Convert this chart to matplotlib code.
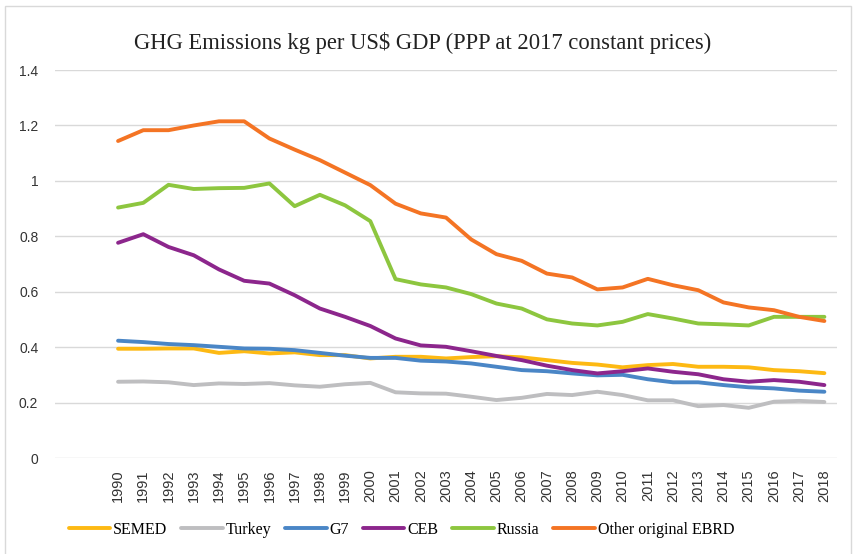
import matplotlib.pyplot as plt
from matplotlib.patches import Rectangle
import numpy as np

# Data
years = list(range(1990, 2019))

semed = [0.395, 0.395, 0.396, 0.396, 0.380, 0.386, 0.378, 0.382, 0.372, 0.372,
         0.360, 0.366, 0.366, 0.360, 0.365, 0.368, 0.364, 0.354, 0.344, 0.338,
         0.328, 0.336, 0.340, 0.330, 0.330, 0.328, 0.318, 0.314, 0.307]
turkey = [0.276, 0.277, 0.274, 0.264, 0.270, 0.268, 0.271, 0.263, 0.258, 0.267,
          0.272, 0.238, 0.234, 0.233, 0.222, 0.210, 0.218, 0.232, 0.228, 0.240,
          0.228, 0.209, 0.209, 0.188, 0.192, 0.182, 0.204, 0.207, 0.203]
g7 = [0.424, 0.419, 0.412, 0.408, 0.402, 0.396, 0.395, 0.390, 0.380, 0.370,
      0.362, 0.362, 0.352, 0.349, 0.342, 0.330, 0.318, 0.314, 0.306, 0.299,
      0.301, 0.285, 0.274, 0.274, 0.264, 0.256, 0.252, 0.244, 0.240]
ceb = [0.777, 0.808, 0.762, 0.732, 0.681, 0.640, 0.630, 0.588, 0.540, 0.510,
       0.477, 0.432, 0.407, 0.402, 0.386, 0.369, 0.354, 0.334, 0.318, 0.306,
       0.314, 0.324, 0.312, 0.303, 0.285, 0.276, 0.282, 0.276, 0.264]
russia = [0.904, 0.921, 0.986, 0.971, 0.974, 0.975, 0.991, 0.909, 0.950, 0.912,
          0.855, 0.646, 0.627, 0.616, 0.592, 0.558, 0.540, 0.501, 0.486, 0.479,
          0.492, 0.520, 0.504, 0.486, 0.483, 0.479, 0.510, 0.510, 0.510]
other_ebrd = [1.144, 1.183, 1.183, 1.200, 1.215, 1.215, 1.153, 1.113, 1.075, 1.030,
              0.985, 0.918, 0.883, 0.868, 0.789, 0.736, 0.712, 0.666, 0.652, 0.609,
              0.616, 0.647, 0.624, 0.606, 0.562, 0.544, 0.534, 0.510, 0.495]

series = [
    ("SEMED", semed, "#FDB913"),
    ("Turkey", turkey, "#BEBEC0"),
    ("G7", g7, "#4A86C6"),
    ("CEB", ceb, "#8C268C"),
    ("Russia", russia, "#8DC63F"),
    ("Other original EBRD", other_ebrd, "#F47424"),
]

fig = plt.figure(figsize=(8.54, 5.54), dpi=100)
ax = fig.add_axes([55 / 854, 1 - 458.3 / 554, 782 / 854, (458.3 - 70) / 554])

# light frame round the whole chart
fig.patches.append(Rectangle((5 / 854, -0.01), 846 / 854, 1 - 6 / 554 + 0.01,
                             transform=fig.transFigure, fill=False,
                             edgecolor="#d9d9d9", linewidth=1))

for name, vals, col in series:
    ax.plot(years, vals, color=col, linewidth=2.8, label=name,
            solid_capstyle="round", solid_joinstyle="round")

ax.set_xlim(1987.5, 2018.5)
ax.set_ylim(0, 1.4)
ax.set_yticks(np.arange(0, 1.41, 0.2))
ax.set_yticklabels(["0", "0.2", "0.4", "0.6", "0.8", "1", "1.2", "1.4"],
                   family="Liberation Sans", fontsize=10, color="#333333")
ax.set_xticks(years)
ax.set_xticklabels([str(y) for y in years], rotation=90, family="Liberation Sans",
                   fontsize=10.5, color="#333333")
ax.tick_params(axis="y", length=0, pad=12)
ax.tick_params(axis="x", length=0, pad=8)
ax.grid(axis="y", color="#d9d9d9", linewidth=1)
ax.set_axisbelow(True)
for s in ax.spines.values():
    s.set_visible(False)

fig.text(0.495, 1 - 43 / 554, "GHG Emissions kg per US$ GDP (PPP at 2017 constant prices)",
         ha="center", va="center", family="Liberation Serif", fontsize=16.3, color="#222222")

fig.legend(loc="center", bbox_to_anchor=(0.47, 1 - 530 / 554), ncol=6, frameon=False,
           prop={"family": "Liberation Serif", "size": 11.5}, handlelength=2.6,
           handletextpad=0.2, columnspacing=0.85, borderaxespad=0)

fig.savefig("out.png", dpi=100)
